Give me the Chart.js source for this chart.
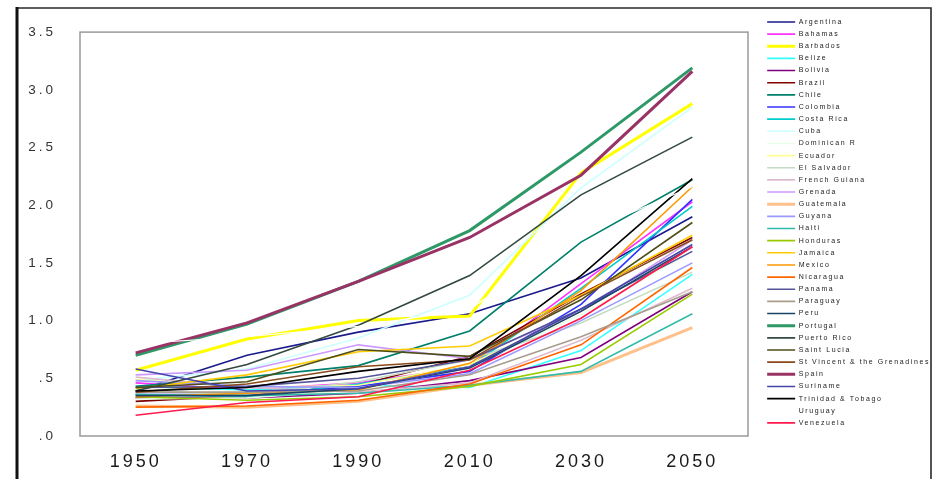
<!DOCTYPE html>
<html><head><meta charset="utf-8">
<script src="https://cdn.jsdelivr.net/npm/chart.js@4/dist/chart.umd.min.js"></script>
<style>html,body{margin:0;padding:0;background:#fff}#wrap{position:relative;width:936px;height:479px}</style>
</head><body><div id="wrap"><canvas id="c"></canvas></div>
<script>
// ---- data ----
const years = ['1950', '1970', '1990', '2010', '2030', '2050'];
const countries = ['Argentina','Bahamas','Barbados','Belize','Bolivia','Brazil','Chile','Colombia','Costa Rica','Cuba','Dominican R','Ecuador','El Salvador','French Guiana','Grenada','Guatemala','Guyana','Haiti','Honduras','Jamaica','Mexico','Nicaragua','Panama','Paraguay','Peru','Portugal','Puerto Rico','Saint Lucia','St Vincent & the Grenadines','Spain','Suriname','Trinidad & Tobago','Uruguay','Venezuela'];
const yTicks = [0, 0.5, 1, 1.5, 2, 2.5, 3, 3.5];

const argentina    = [0.39, 0.70, 0.90, 1.06, 1.37, 1.90];
const bahamas      = [0.46, 0.40, 0.46, 0.60, 1.32, 2.03];
const barbados     = [0.57, 0.84, 1.00, 1.04, 2.28, 2.88];
const belize       = [0.43, 0.40, 0.44, 0.42, 0.74, 1.40];
const bolivia      = [0.33, 0.33, 0.37, 0.48, 0.68, 1.25];
const brazil       = [0.30, 0.35, 0.44, 0.69, 1.23, 1.72];
const chile        = [0.43, 0.51, 0.61, 0.91, 1.68, 2.22];
const colombia     = [0.36, 0.36, 0.43, 0.56, 1.14, 2.05];
const costaRica    = [0.36, 0.34, 0.45, 0.60, 1.28, 1.99];
const cuba         = [0.48, 0.58, 0.85, 1.22, 2.15, 2.85];
const dominicanR   = [0.32, 0.33, 0.40, 0.60, 1.05, 1.60];
const ecuador      = [0.49, 0.42, 0.44, 0.62, 1.08, 1.70];
const elSalvador   = [0.39, 0.36, 0.47, 0.66, 0.98, 1.42];
const frenchGuiana = [0.51, 0.42, 0.38, 0.46, 0.83, 1.28];
const grenada      = [0.53, 0.57, 0.79, 0.67, 1.08, 1.70];
const guatemala    = [0.26, 0.25, 0.30, 0.44, 0.55, 0.94];
const guyana       = [0.48, 0.43, 0.42, 0.54, 1.00, 1.50];
const haiti        = [0.36, 0.35, 0.37, 0.44, 0.56, 1.06];
const honduras     = [0.34, 0.31, 0.34, 0.43, 0.62, 1.23];
const jamaica      = [0.41, 0.53, 0.73, 0.78, 1.22, 1.74];
const mexico       = [0.34, 0.37, 0.40, 0.63, 1.26, 2.16];
const nicaragua    = [0.25, 0.26, 0.31, 0.45, 0.79, 1.46];
const panama       = [0.42, 0.43, 0.50, 0.66, 1.10, 1.60];
const paraguay     = [0.38, 0.38, 0.39, 0.53, 0.86, 1.25];
const peru         = [0.35, 0.35, 0.41, 0.59, 1.08, 1.64];
const portugal     = [0.70, 0.97, 1.34, 1.78, 2.46, 3.19];
const puertoRico   = [0.39, 0.62, 0.96, 1.39, 2.09, 2.59];
const saintLucia   = [0.42, 0.47, 0.75, 0.69, 1.18, 1.85];
const stVincent    = [0.38, 0.45, 0.60, 0.66, 1.21, 1.70];
const spain        = [0.72, 0.98, 1.34, 1.72, 2.26, 3.16];
const suriname     = [0.58, 0.39, 0.41, 0.60, 1.10, 1.66];
const trinidad     = [0.39, 0.42, 0.56, 0.67, 1.39, 2.23];
const uruguay      = [0.80, 0.86, 0.95, 1.10, 1.75, 2.16];
const venezuela    = [0.18, 0.29, 0.34, 0.57, 1.02, 1.64];

const seriesValues = [argentina, bahamas, barbados, belize, bolivia, brazil, chile, colombia, costaRica, cuba, dominicanR, ecuador, elSalvador, frenchGuiana, grenada, guatemala, guyana, haiti, honduras, jamaica, mexico, nicaragua, panama, paraguay, peru, portugal, puertoRico, saintLucia, stVincent, spain, suriname, trinidad, uruguay, venezuela];

// ---- styles ----
const colors = ['#1a1a8c','#ff33ff','#ffff00','#33ffff','#800080','#800000','#00806a','#3333ff','#00cccc','#ccffff','#e6ffe6','#ffff99','#c4dcc4','#dcbccc','#cc99ff','#ffc08a','#9999ff','#33bbaa','#99cc00','#ffcc00','#ff9900','#ff6600','#555599','#a89c8c','#1a4466','#2e9966','#334a40','#4d4d1a','#8a4a1a','#993366','#4444aa','#000000','#ffffff','#ff1a4d'];
const thick = ['Barbados','Guatemala','Portugal','Spain'];

const FONT = "'Liberation Sans', Arial, sans-serif";
const LEGEND_W = 188, LEGEND_SHIFT = 14;

const datasets = countries.map((name, i) => ({
  label: name,
  data: seriesValues[i],
  borderColor: colors[i],
  backgroundColor: colors[i],
  borderWidth: thick.includes(name) ? 3 : (name === 'Uruguay' ? 1.2 : 1.6),
  pointRadius: 0,
  tension: 0,
  fill: false,
  order: countries.length - i
}));

const framePlugin = {
  id: 'frame',
  beforeDraw(chart) {
    const c = chart.ctx; c.save();
    c.fillStyle = '#fff'; c.fillRect(0, 0, chart.width, chart.height);
    c.strokeStyle = '#2a2a2a'; c.lineWidth = 1.6;
    c.beginPath(); c.moveTo(17, 8); c.lineTo(931, 8); c.lineTo(931, 485); c.stroke();
    c.strokeStyle = '#111'; c.lineWidth = 3;
    c.beginPath(); c.moveTo(17, 7); c.lineTo(17, 485); c.stroke();
    c.restore();
  },
  beforeDatasetsDraw(chart) {
    const a = chart.chartArea, c = chart.ctx; c.save();
    c.strokeStyle = '#9a9a9a'; c.lineWidth = 1.5;
    c.strokeRect(a.left, a.top, a.right - a.left, a.bottom - a.top);
    c.restore();
  }
};

function withSpacing(obj, method, spacing) {
  const key = '__sp_' + method;
  if (!obj || obj[key]) return;
  obj[key] = true;
  const orig = obj[method];
  obj[method] = function (...args) {
    const c = this.ctx; c.save(); c.letterSpacing = spacing;
    const r = orig.apply(this, args); c.restore(); return r;
  };
}

const spacingPlugin = {
  id: 'spacing',
  beforeLayout(chart) {
    const lg = chart.legend;
    if (lg && !lg.__fitP) {
      lg.__fitP = true;
      const f = lg.fit;
      lg.fit = function () { f.call(this); if (this.options.display) this.width = LEGEND_W; };
      const d = lg.draw;
      lg.draw = function (...args) {
        const l = this.left, r = this.right;
        this.left = l + LEGEND_SHIFT; this.right = r + LEGEND_SHIFT;
        const c = this.ctx; c.save(); c.letterSpacing = '1.6px';
        d.apply(this, args);
        c.restore(); this.left = l; this.right = r;
      };
    }
  },
  afterLayout(chart) {
    withSpacing(chart.scales.x, 'drawLabels', '3px');
    withSpacing(chart.scales.y, 'drawLabels', '3px');
  }
};

new Chart(document.getElementById('c'), {
  type: 'line',
  data: { labels: years, datasets },
  options: {
    responsive: true, maintainAspectRatio: false, animation: false,
    devicePixelRatio: 1,
    layout: { padding: { top: 13.3, left: 0, right: 0, bottom: 0 }, autoPadding: false },
    plugins: {
      title: { display: true, text: '', fullSize: false, padding: 0, font: { size: 13.7, lineHeight: 1 } },
      tooltip: { enabled: false },
      legend: {
        position: 'right', align: 'start',
        labels: {
          usePointStyle: true, pointStyle: 'line', pointStyleWidth: 28,
          boxWidth: 28, boxHeight: 7, padding: 5.15,
          color: '#222', font: { family: FONT, size: 7 },
          sort: (a, b) => a.datasetIndex - b.datasetIndex
        }
      }
    },
    scales: {
      x: {
        offset: true,
        grid: { display: false, drawTicks: false },
        border: { display: false },
        ticks: { color: '#1a1a1a', font: { family: FONT, size: 18 }, padding: 15, maxRotation: 0 },
        afterFit: s => { s.height = 43; }
      },
      y: {
        min: 0, max: 3.5,
        afterBuildTicks: s => { s.ticks = yTicks.map(v => ({ value: v })); },
        grid: { display: false, drawTicks: false },
        border: { display: false },
        ticks: {
          color: '#333', font: { family: FONT, size: 13.5 }, padding: 24,
          callback: v => Number(v).toFixed(1).replace(/^0/, '')
        },
        afterFit: s => { s.width = 80; }
      }
    }
  },
  plugins: [framePlugin, spacingPlugin]
});
</script></body></html>
